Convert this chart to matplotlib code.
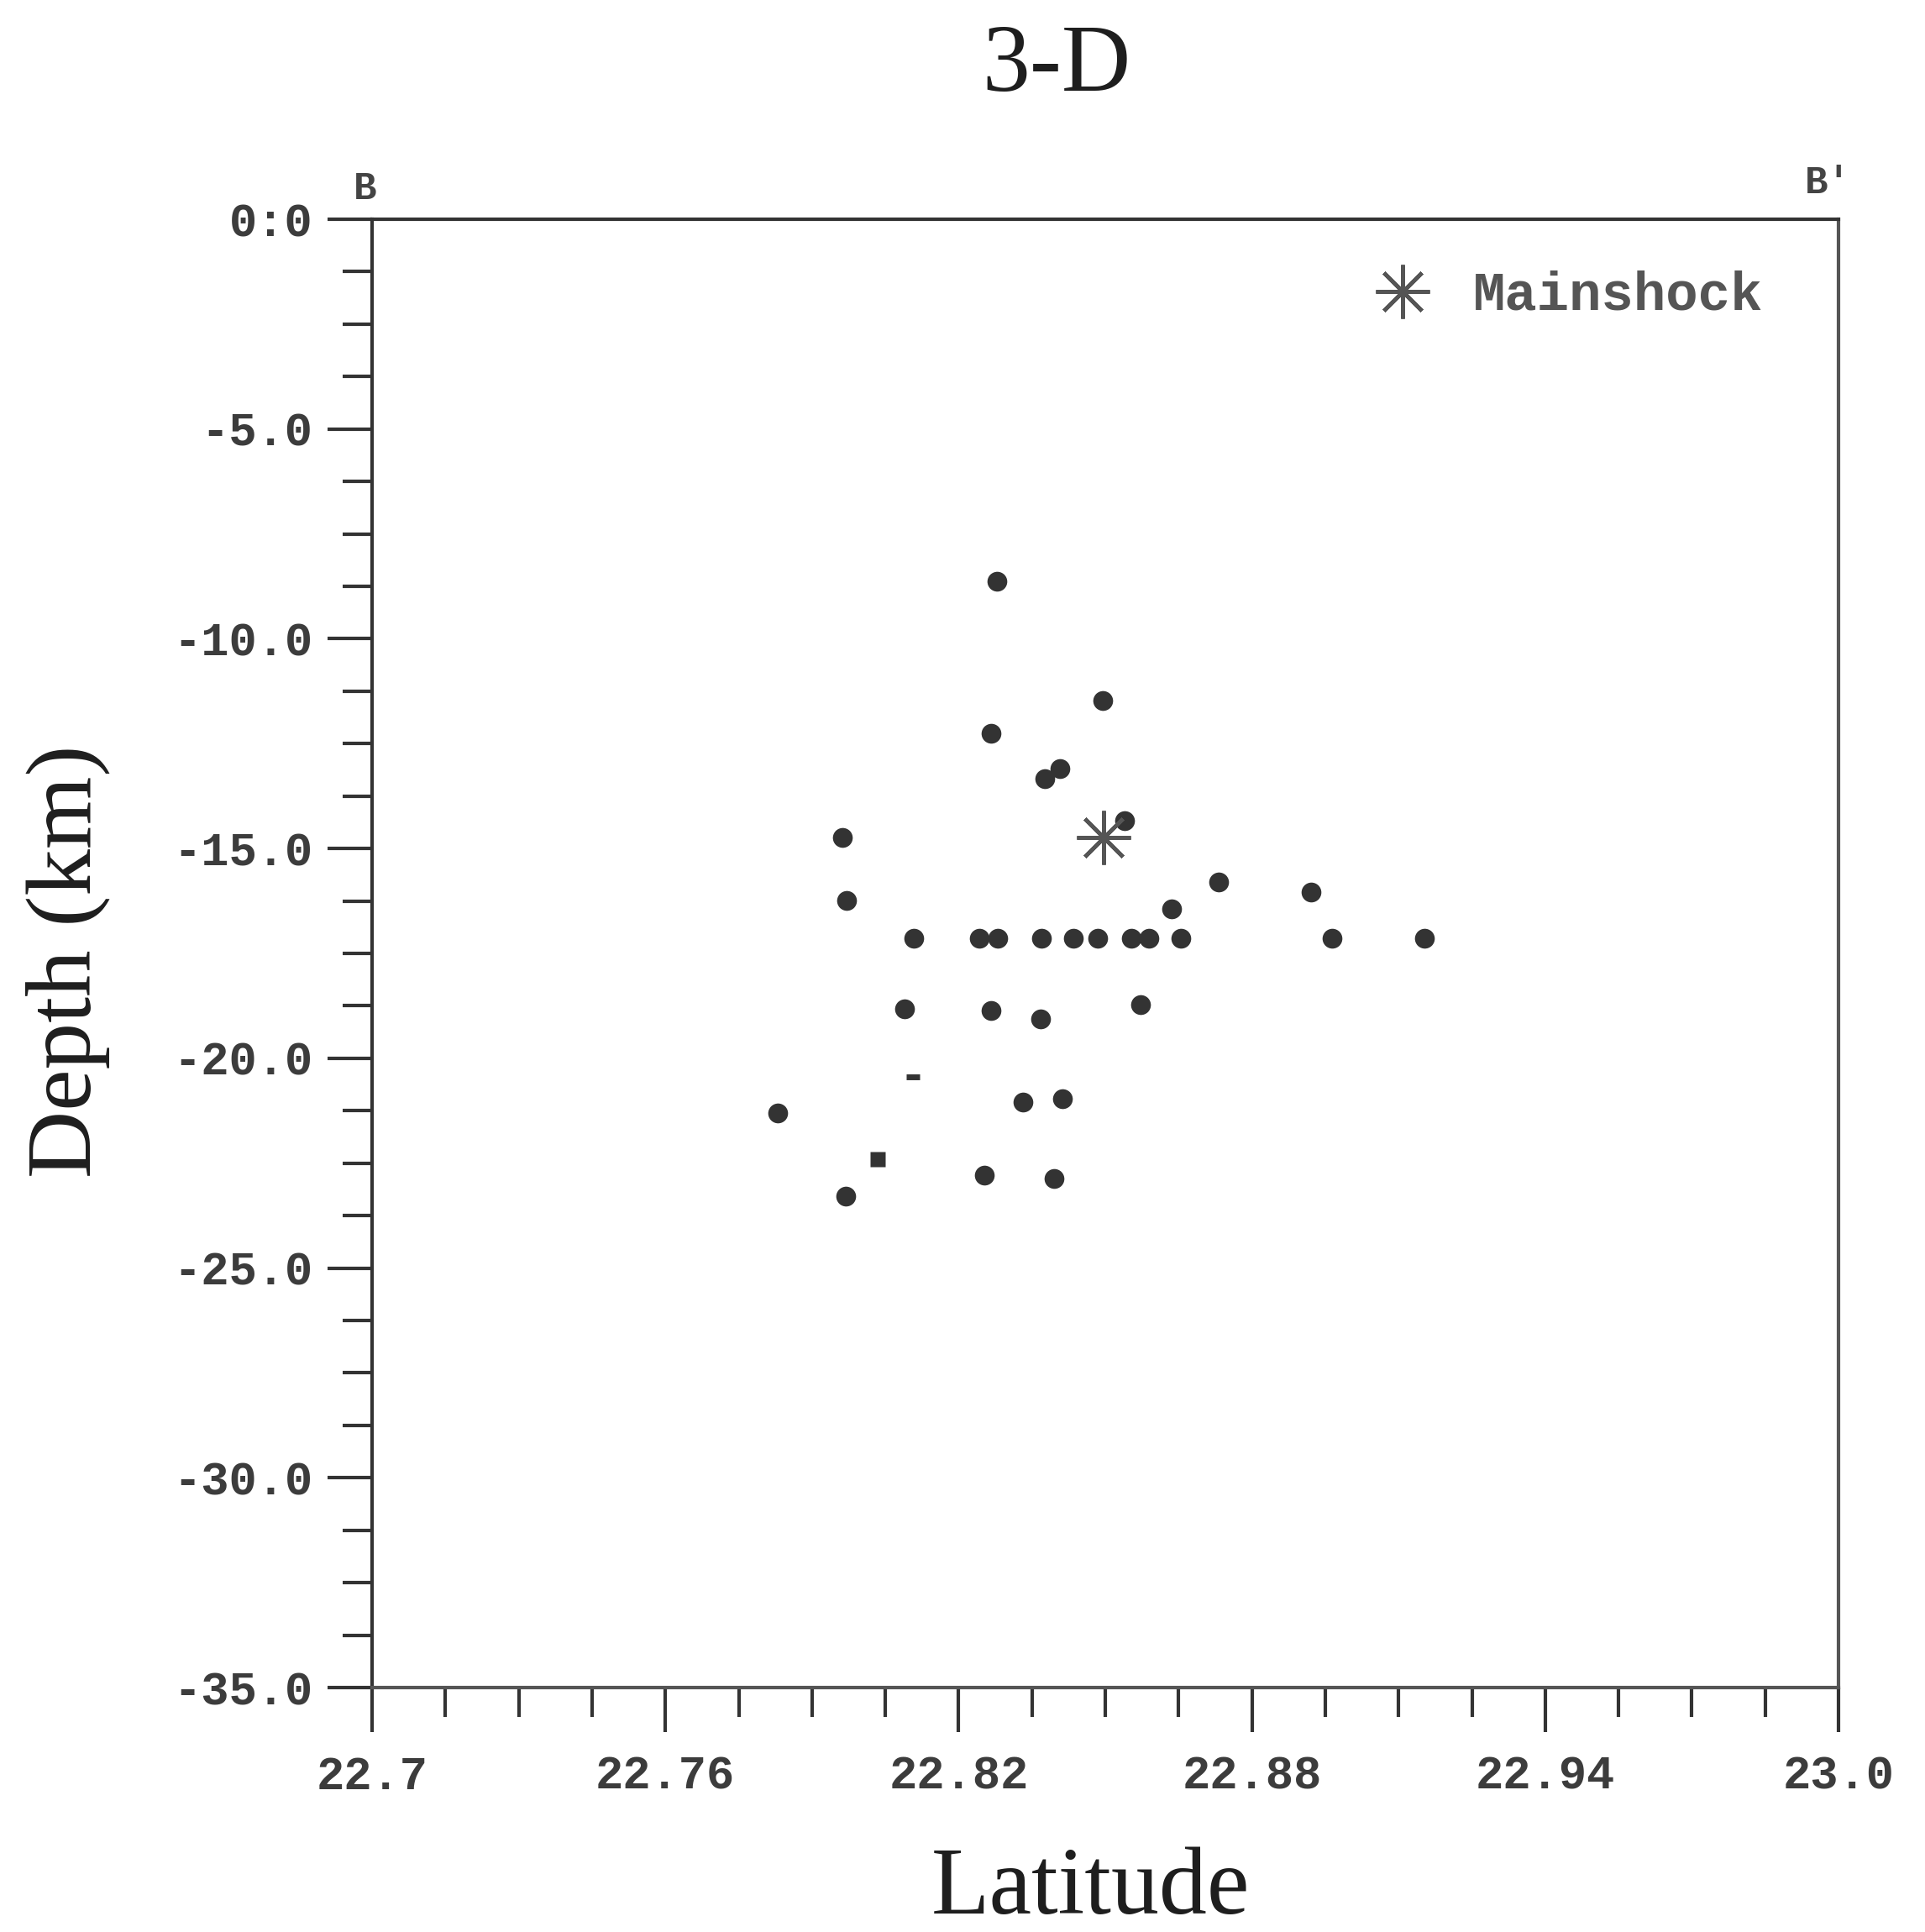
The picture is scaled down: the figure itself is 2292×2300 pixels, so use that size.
import matplotlib
matplotlib.use("Agg")
import numpy as np
import matplotlib.pyplot as plt
from matplotlib.ticker import FixedLocator

# aftershock hypocentres (latitude, depth in km)
lat = [22.8278, 22.8494, 22.8266, 22.8377, 22.8407, 22.8540, 22.7963, 22.7971,
       22.8732, 22.8921, 22.8636,
       22.8109, 22.8242, 22.8280, 22.8369, 22.8434, 22.8484, 22.8554, 22.8590,
       22.8654, 22.8964, 22.9153,
       22.8089, 22.8266, 22.8367, 22.8573,
       22.7830, 22.8331, 22.8413, 22.8252, 22.8395, 22.7969]
depth = [-8.63, -11.47, -12.25, -13.34, -13.10, -14.34, -14.74, -16.24,
         -15.80, -16.04, -16.44,
         -17.14, -17.14, -17.14, -17.14, -17.14, -17.14, -17.14, -17.14,
         -17.14, -17.14, -17.14,
         -18.82, -18.86, -19.06, -18.72,
         -21.30, -21.05, -20.96, -22.78, -22.87, -23.28]

# partly printed symbols
sq_lat = [22.8034]
sq_depth = [-22.40]
dash_lat = [22.8106]
dash_depth = [-20.45]

main_lat = [22.8497]
main_depth = [-14.74]

xticks = [22.7, 22.76, 22.82, 22.88, 22.94, 23.0]
xticklabels = ["22.7", "22.76", "22.82", "22.88", "22.94", "23.0"]
yticks = [0, -5, -10, -15, -20, -25, -30, -35]
yticklabels = ["0:0", "-5.0", "-10.0", "-15.0", "-20.0", "-25.0", "-30.0", "-35.0"]

W, H = 2292, 2300
fig = plt.figure(figsize=(W / 100, H / 100), dpi=100)
fig.patch.set_facecolor("white")
ax = fig.add_axes([443 / W, 1 - 2009 / H, (2189 - 443) / W, (2009 - 261) / H])

dot_col = "#333333"
ax.plot(lat, depth, "o", ms=17, color=dot_col, mec="none", zorder=3)
ax.plot(sq_lat, sq_depth, "s", ms=13, color=dot_col, mec="none", zorder=3)
ax.plot(dash_lat, dash_depth, "_", ms=12, mew=5, color=dot_col, zorder=3)
star, = ax.plot(main_lat, main_depth, ls="none", marker=(8, 2, 0), ms=46,
                mew=3.4, color="#555555", zorder=4, label="Mainshock")

ax.set_xlim(22.7, 23.0)
ax.set_ylim(-35, 0)
ax.xaxis.set_major_locator(FixedLocator(xticks))
ax.xaxis.set_minor_locator(FixedLocator(22.7 + 0.015 * np.arange(21)))
ax.yaxis.set_major_locator(FixedLocator(yticks))
ax.yaxis.set_minor_locator(FixedLocator(-1.25 * np.arange(29)))
ax.set_xticklabels(xticklabels)
ax.set_yticklabels(yticklabels)

mono = "Liberation Mono"
for lab in ax.get_xticklabels() + ax.get_yticklabels():
    lab.set_fontfamily(mono)
    lab.set_fontweight("bold")
    lab.set_fontsize(40)
    lab.set_color("#3c3c3c")

ax.tick_params(which="major", direction="out", length=38, width=3.0, color="#333333")
ax.tick_params(which="minor", direction="out", length=25, width=3.0, color="#333333")
ax.tick_params(axis="x", which="major", pad=20)
ax.tick_params(axis="y", which="major", pad=13)

for side in ["left", "top", "right", "bottom"]:
    ax.spines[side].set_linewidth(3.0)
    ax.spines[side].set_color("#333333")
ax.spines["bottom"].set_color("#555555")
ax.spines["right"].set_color("#555555")

# section end labels
ax.text(-0.005, 1.008, "B", transform=ax.transAxes, ha="center", va="bottom",
        family=mono, weight="bold", fontsize=33, color="#444444")
ax.text(0.993, 1.012, "B\u2032", transform=ax.transAxes, ha="center", va="bottom",
        family=[mono, "DejaVu Sans"], weight="bold", fontsize=33, color="#444444")

leg = ax.legend(handles=[star], loc="center left", bbox_to_anchor=(0.6847, 0.948),
                frameon=False, borderpad=0, borderaxespad=0, handlelength=1.0,
                handletextpad=0.8, numpoints=1,
                prop={"family": mono, "weight": "bold", "size": 46})
for t in leg.get_texts():
    t.set_color("#555555")

serif = "Liberation Serif"
fig.text(1258 / W, 1 - 80 / H, "3-D", ha="center", va="center",
         family=serif, fontsize=82, color="#1e1e1e")
fig.text(1299 / W, 1 - 2278 / H, "Latitude", ha="center", va="baseline",
         family=serif, fontsize=82, color="#1e1e1e")
fig.text(81 / W, 1 - 1144 / H, "Depth (km)", ha="center", va="center",
         rotation=90, family=serif, fontsize=80, color="#1e1e1e")

fig.savefig("out.png", dpi=100, facecolor="white")
